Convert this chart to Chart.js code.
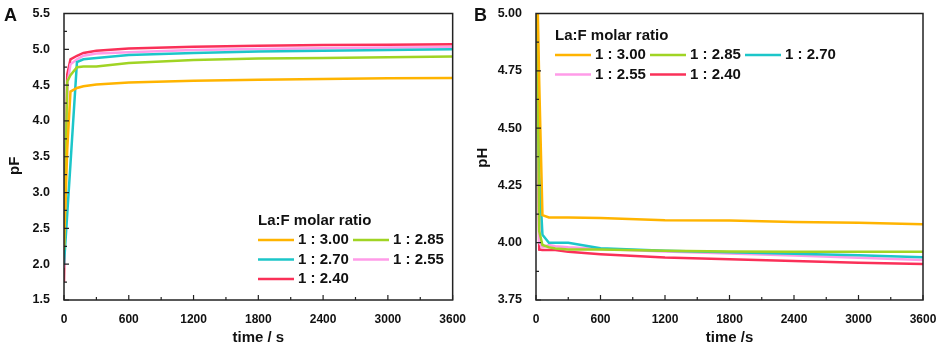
<!DOCTYPE html>
<html>
<head>
<meta charset="utf-8">
<script src="https://cdn.jsdelivr.net/npm/chart.js@4.4.1/dist/chart.umd.min.js"></script>
<style>
  body { margin: 0; background: #fff; }
  .panel { position: absolute; top: 0; height: 345px; }
  #panelA { left: 0; width: 470px; }
  #panelB { left: 470px; width: 471px; }
</style>
</head>
<body>
<div class="panel" id="panelA"><canvas id="chartA"></canvas></div>
<div class="panel" id="panelB"><canvas id="chartB"></canvas></div>
<script>
// La:F molar ratios and their colours
const ratioLabels = ['1 : 3.00', '1 : 2.85', '1 : 2.70', '1 : 2.55', '1 : 2.40'];
const lineColors = ['#FFB400', '#A0D424', '#1CC6C9', '#FF9BE8', '#FA3058'];

// sampling times (s)
const times = [0, 30, 60, 120, 180, 300, 600, 1200, 1800, 2400, 3000, 3600];

// panel A : pF
const pF300 = [2.25, 3.60, 4.41, 4.46, 4.485, 4.51, 4.535, 4.56, 4.575, 4.585, 4.595, 4.60];
const pF285 = [2.20, 4.55, 4.64, 4.75, 4.76, 4.76, 4.81, 4.85, 4.87, 4.88, 4.89, 4.90];
const pF270 = [2.00, 2.70, 3.40, 4.82, 4.86, 4.88, 4.92, 4.95, 4.97, 4.98, 4.99, 5.00];
const pF255 = [1.95, 4.50, 4.79, 4.86, 4.91, 4.94, 4.96, 4.99, 5.005, 5.015, 5.025, 5.03];
const pF240 = [1.75, 4.65, 4.86, 4.91, 4.95, 4.98, 5.01, 5.035, 5.05, 5.06, 5.065, 5.07];

// panel B : pH
const pH300 = [5.40, 4.70, 4.12, 4.11, 4.11, 4.11, 4.108, 4.098, 4.097, 4.09, 4.087, 4.08];
const pH285 = [5.50, 4.05, 3.99, 3.98, 3.975, 3.97, 3.97, 3.965, 3.962, 3.96, 3.96, 3.96];
const pH270 = [5.60, 4.30, 4.035, 4.00, 4.00, 4.00, 3.976, 3.965, 3.958, 3.952, 3.945, 3.937];
const pH255 = [5.50, 4.00, 3.98, 3.99, 3.985, 3.98, 3.972, 3.962, 3.953, 3.944, 3.934, 3.924];
const pH240 = [5.40, 3.97, 3.968, 3.968, 3.968, 3.96, 3.95, 3.935, 3.928, 3.92, 3.913, 3.907];

const FONT = '"Liberation Sans", Arial, sans-serif';

function makeDatasets(series) {
  return series.map((vals, i) => ({
    label: ratioLabels[i],
    data: times.map((t, k) => ({ x: t, y: vals[k] })),
    borderColor: lineColors[i],
    backgroundColor: lineColors[i],
    borderWidth: 2.5,
    pointRadius: 0,
    tension: 0
  }));
}

// frame, inward ticks, y title, panel letter and legend
const decor = {
  id: 'decor',
  afterDatasetsDraw(chart, args, opts) {
    const { ctx, chartArea: a, scales } = chart;
    ctx.save();
    ctx.strokeStyle = '#222';
    ctx.lineWidth = 1.5;
    ctx.strokeRect(a.left, a.top, a.right - a.left, a.bottom - a.top);

    ctx.lineWidth = 1.2;
    ctx.beginPath();
    scales.x.ticks.forEach((t) => {
      const px = scales.x.getPixelForValue(t.value);
      const len = t.label === '' ? 3 : 5;
      ctx.moveTo(px, a.bottom);
      ctx.lineTo(px, a.bottom - len);
    });
    scales.y.ticks.forEach((t) => {
      const py = scales.y.getPixelForValue(t.value);
      const len = t.label === '' ? 3 : 5;
      ctx.moveTo(a.left, py);
      ctx.lineTo(a.left + len, py);
    });
    ctx.stroke();

    ctx.fillStyle = '#111';
    ctx.save();
    ctx.translate(opts.titleX, (a.top + a.bottom) / 2 + opts.titleShift);
    ctx.rotate(-Math.PI / 2);
    ctx.font = 'bold 15px ' + FONT;
    ctx.textAlign = 'center';
    ctx.textBaseline = 'middle';
    ctx.fillText(opts.yTitle, 0, 0);
    ctx.restore();

    ctx.font = 'bold 18px ' + FONT;
    ctx.textAlign = 'left';
    ctx.textBaseline = 'alphabetic';
    ctx.fillText(opts.tag, 4, 21);

    const lx = a.left + opts.legendX;
    const ly = a.top + opts.legendY;
    ctx.font = 'bold 15px ' + FONT;
    ctx.textBaseline = 'middle';
    ctx.fillText('La:F molar ratio', lx, ly);
    chart.data.datasets.forEach((ds, i) => {
      const col = i % opts.cols;
      const row = Math.floor(i / opts.cols);
      const x = lx + col * 95;
      const y = ly + 19.5 * (row + 1);
      ctx.strokeStyle = ds.borderColor;
      ctx.lineWidth = 2.5;
      ctx.beginPath();
      ctx.moveTo(x, y);
      ctx.lineTo(x + 36, y);
      ctx.stroke();
      ctx.fillText(ds.label, x + 40, y);
    });
    ctx.restore();
  }
};

function makeChart(id, series, yMin, yMax, yStep, yDigits, xTitle, pad, dec) {
  return new Chart(document.getElementById(id), {
    type: 'line',
    data: { datasets: makeDatasets(series) },
    plugins: [decor],
    options: {
      responsive: true,
      maintainAspectRatio: false,
      animation: false,
      layout: { padding: pad },
      plugins: { legend: { display: false }, tooltip: { enabled: false }, decor: dec },
      scales: {
        x: {
          type: 'linear', min: 0, max: 3600,
          grid: { display: false }, border: { display: false },
          afterFit: (s) => { s.height = 45; },
          ticks: {
            stepSize: 300, autoSkip: false, maxRotation: 0, padding: 4,
            color: '#111', font: { family: FONT, size: 12, weight: 'bold' },
            callback: (v) => (v % 600 === 0 ? String(v) : '')
          },
          title: {
            display: true, text: xTitle, color: '#111', padding: 0,
            font: { family: FONT, size: 15, weight: 'bold', lineHeight: 1 }
          }
        },
        y: {
          min: yMin, max: yMax,
          grid: { display: false }, border: { display: false },
          afterFit: (s) => { s.width = pad.yWidth; },
          ticks: {
            stepSize: yStep, autoSkip: false, padding: 6,
            color: '#111', font: { family: FONT, size: 12.5, weight: 'bold' },
            callback: (v) => {
              const n = v / (yStep * 2);
              return Math.abs(n - Math.round(n)) < 1e-6 ? v.toFixed(yDigits) : '';
            }
          }
        }
      }
    }
  });
}

makeChart('chartA', [pF300, pF285, pF270, pF255, pF240], 1.5, 5.5, 0.25, 1, 'time / s',
  { top: 11, right: 14, bottom: 0, left: 0, yWidth: 64 },
  { tag: 'A', yTitle: 'pF', titleX: 15, titleShift: 9, legendX: 194, legendY: 207, cols: 2 });

makeChart('chartB', [pH300, pH285, pH270, pH255, pH240], 3.75, 5.0, 0.125, 2, 'time /s',
  { top: 13, right: 18, bottom: 0, left: 0, yWidth: 66 },
  { tag: 'B', yTitle: 'pH', titleX: 13, titleShift: 1, legendX: 19, legendY: 22, cols: 3 });
</script>
</body>
</html>
